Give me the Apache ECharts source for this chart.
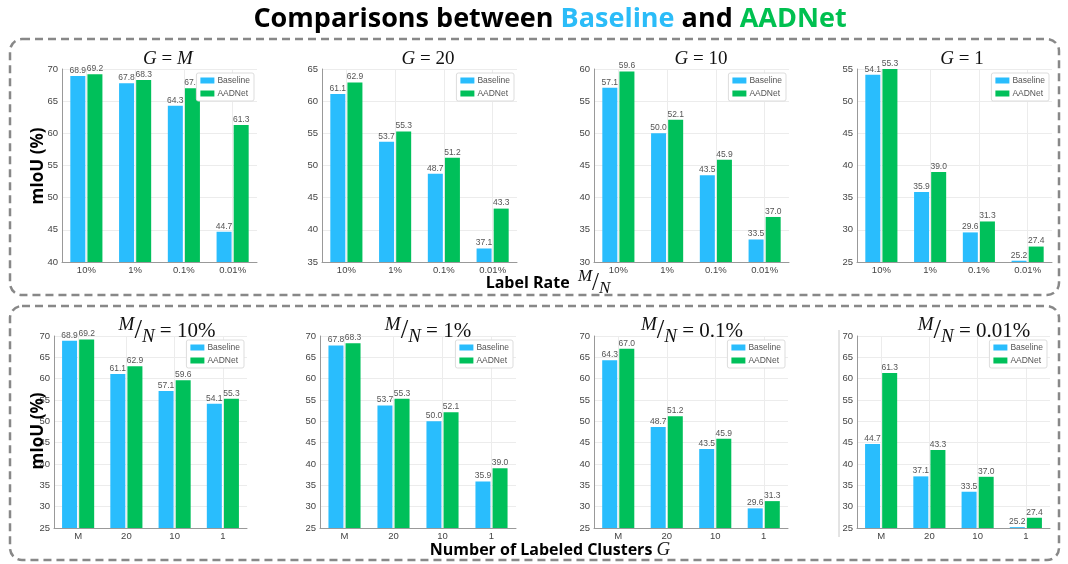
<!DOCTYPE html>
<html>
<head>
<meta charset="utf-8">
<script src="https://cdn.jsdelivr.net/npm/echarts@6/dist/echarts.min.js"></script>
<style>
  html, body { margin: 0; padding: 0; background: #fff; }
  #chart { width: 1068px; height: 564px; }
</style>
</head>
<body>
<div id="chart"></div>
<script>
// categories
var rates = ['10%', '1%', '0.1%', '0.01%'];
var clusters = ['M', '20', '10', '1'];
var rateTitles = ['10%', '1%', '0.1%', '0.01%'];
var clusterTitles = ['M', '20', '10', '1'];

// mIoU per label rate, one row per G
var baselineGM  = [68.9, 67.8, 64.3, 44.7];
var baselineG20 = [61.1, 53.7, 48.7, 37.1];
var baselineG10 = [57.1, 50.0, 43.5, 33.5];
var baselineG1  = [54.1, 35.9, 29.6, 25.2];
var aadnetGM  = [69.2, 68.3, 67.0, 61.3];
var aadnetG20 = [62.9, 55.3, 51.2, 43.3];
var aadnetG10 = [59.6, 52.1, 45.9, 37.0];
var aadnetG1  = [55.3, 39.0, 31.3, 27.4];

// y axis ranges
var topMin = [40, 35, 30, 25];
var topMax = [70, 65, 60, 55];
var bottomMin = 25, bottomMax = 70;

var BLUE = '#29bdfd', GREEN = '#00c05a';

var myChart = echarts.init(document.getElementById('chart'));

var baseRows = [baselineGM, baselineG20, baselineG10, baselineG1];
var aadRows = [aadnetGM, aadnetG20, aadnetG10, aadnetG1];

// grid boxes [left, top, width, height]
var boxes = [
    [62, 69, 195, 193], [322, 69, 195, 193], [594, 69, 195, 193], [857, 69, 195, 193],
    [54, 336, 193, 192], [320, 336, 196, 192], [594, 336, 194, 192], [857, 336, 193, 192]
];

var grids = [], xAxes = [], yAxes = [], series = [], legends = [];

function addPanel(i, cats, bVals, aVals, ymin, ymax) {
    var b = boxes[i];
    grids.push({left: b[0], top: b[1], width: b[2], height: b[3]});
    xAxes.push({
        type: 'category', gridIndex: i, data: cats,
        axisLine: {lineStyle: {color: '#999'}},
        axisTick: {show: false},
        axisLabel: {fontSize: 9.5, color: '#444', margin: 3},
        splitLine: {show: true, alignWithLabel: true, lineStyle: {color: '#ececec'}}
    });
    yAxes.push({
        type: 'value', gridIndex: i, min: ymin, max: ymax, interval: 5,
        axisLine: {show: true, lineStyle: {color: '#999'}},
        axisTick: {show: false},
        axisLabel: {fontSize: 9.5, color: '#444', margin: 4},
        splitLine: {lineStyle: {color: '#ececec'}}
    });
    var lbl = {
        show: true, position: 'top', distance: 1, fontSize: 8.5, color: '#555',
        formatter: function (p) { return p.value.toFixed(1); }
    };
    series.push({
        name: 'Baseline', type: 'bar', xAxisIndex: i, yAxisIndex: i,
        data: bVals, barWidth: 15, barGap: '14%',
        itemStyle: {color: BLUE}, label: lbl
    });
    series.push({
        name: 'AADNet', type: 'bar', xAxisIndex: i, yAxisIndex: i,
        data: aVals, barWidth: 15, barGap: '14%',
        itemStyle: {color: GREEN}, label: lbl
    });
    legends.push({
        data: ['Baseline', 'AADNet'], orient: 'vertical',
        right: 1068 - (b[0] + b[2]) + 3, top: b[1] + 4,
        itemWidth: 14, itemHeight: 6, itemGap: 4, icon: 'rect',
        padding: [3, 4, 3, 4], borderColor: '#ddd', borderWidth: 1, borderRadius: 2,
        backgroundColor: '#fff',
        textStyle: {fontSize: 8.5, color: '#555', padding: [0, 0, 0, -2]}
    });
}

for (var g = 0; g < 4; g++) {
    addPanel(g, rates, baseRows[g], aadRows[g], topMin[g], topMax[g]);
}
for (var r = 0; r < 4; r++) {
    addPanel(4 + r, clusters,
        baseRows.map(function (row) { return row[r]; }),
        aadRows.map(function (row) { return row[r]; }),
        bottomMin, bottomMax);
}

function mathRich(size) {
    return {
        i: {fontFamily: 'Liberation Serif', fontStyle: 'italic', fontSize: size, fill: '#111'},
        n: {fontFamily: 'Liberation Serif', fontSize: size, fill: '#111'},
        sup: {fontFamily: 'Liberation Serif', fontStyle: 'italic', fontSize: size - 2, fill: '#111', padding: [0, 0, 12, 0]},
        sl: {fontFamily: 'Liberation Serif', fontSize: size + 6, fill: '#111'},
        sub: {fontFamily: 'Liberation Serif', fontStyle: 'italic', fontSize: size - 2, fill: '#111', padding: [12, 0, 0, 0]}
    };
}

function textEl(x, y, text, rich) {
    return {
        type: 'text', z: 100,
        style: {
            text: text, x: x, y: y, rich: rich,
            textAlign: 'center', textVerticalAlign: 'middle',
            align: 'center', verticalAlign: 'middle'
        }
    };
}

var boldK = {fontFamily: 'Open Sans', fontWeight: 'bold', fontSize: 16, fill: '#000'};

var topTitleX = [168, 428, 701, 962];
var botTitleX = [167, 428, 692, 974];
var graphics = [
    {type: 'rect', shape: {x: 10, y: 39, width: 1049, height: 256, r: 12},
     style: {fill: 'none', stroke: '#888', lineWidth: 2.5, lineDash: [8, 5]}},
    {type: 'rect', shape: {x: 10, y: 306, width: 1049, height: 254, r: 12},
     style: {fill: 'none', stroke: '#888', lineWidth: 2.5, lineDash: [8, 5]}},
    {type: 'line', shape: {x1: 839, y1: 330, x2: 839, y2: 537},
     style: {stroke: '#c8c8c8', lineWidth: 1}},
    textEl(550, 19, '{k|Comparisons between }{b|Baseline}{k| and }{g|AADNet}', {
        k: {fontFamily: 'Open Sans', fontWeight: 'bold', fontSize: 27, fill: '#000'},
        b: {fontFamily: 'Open Sans', fontWeight: 'bold', fontSize: 27, fill: '#2bbcf8'},
        g: {fontFamily: 'Open Sans', fontWeight: 'bold', fontSize: 27, fill: '#00c050'}
    }),
    textEl(548, 283, '{k|Label Rate  }{sup|M}{sl|/}{sub|N}', Object.assign({k: boldK}, mathRich(19))),
    textEl(550, 550, '{k|Number of Labeled Clusters }{i|G}', Object.assign({k: boldK}, mathRich(19)))
];

[166, 431].forEach(function (cy) {
    graphics.push({
        type: 'text', x: 38, y: cy, rotation: Math.PI / 2, z: 100,
        style: {text: 'mIoU (%)', fontFamily: 'Open Sans', fontWeight: 'bold', fontSize: 17,
                fill: '#000', textAlign: 'center', textVerticalAlign: 'middle',
                align: 'center', verticalAlign: 'middle'}
    });
});

for (var t = 0; t < 4; t++) {
    graphics.push(textEl(topTitleX[t], 59,
        '{i|G}{n| = }{' + (clusterTitles[t] === 'M' ? 'i' : 'n') + '|' + clusterTitles[t] + '}', mathRich(19)));
    graphics.push(textEl(botTitleX[t], 331,
        '{sup|M}{sl|/}{sub|N}{n| = ' + rateTitles[t] + '}', mathRich(21)));
}

option = {
    animation: false,
    backgroundColor: '#fff',
    grid: grids,
    xAxis: xAxes,
    yAxis: yAxes,
    legend: legends,
    series: series,
    graphic: graphics
};
myChart.setOption(option);
</script>
</body>
</html>
